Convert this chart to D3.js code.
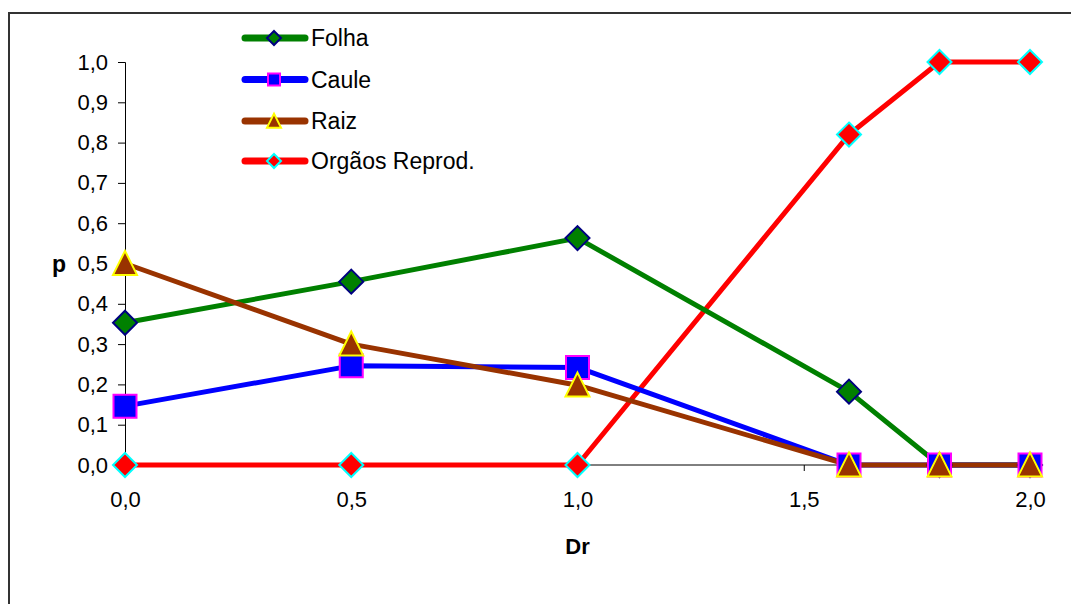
<!DOCTYPE html>
<html><head><meta charset="utf-8">
<script src="https://cdn.jsdelivr.net/npm/d3@7"></script>
<style>body{margin:0;background:#fff;} svg{display:block;font-family:Arial,"Liberation Sans",sans-serif;}</style>
</head><body>
<svg id="c" width="1071" height="604"></svg>
<script>
const dr = [0.0, 0.5, 1.0, 1.6, 1.8, 2.0];
const folha = [0.353, 0.455, 0.563, 0.182, 0.0, 0.0];
const caule = [0.146, 0.246, 0.242, 0.0, 0.0, 0.0];
const raiz = [0.5, 0.3, 0.198, 0.0, 0.0, 0.0];
const orgaos = [0.0, 0.0, 0.0, 0.82, 1.0, 1.0];
const seriesNames = ["Folha", "Caule", "Raiz", "Orgãos Reprod."];
const xTicks = [0.0, 0.5, 1.0, 1.5, 2.0];
const yTicks = [0.0, 0.1, 0.2, 0.3, 0.4, 0.5, 0.6, 0.7, 0.8, 0.9, 1.0];

const series = [
  {name: seriesNames[0], values: folha, line: "#008000", fill: "#008000", stroke: "#000080", shape: "diamond"},
  {name: seriesNames[1], values: caule, line: "#0000FF", fill: "#0000FF", stroke: "#FF00FF", shape: "square"},
  {name: seriesNames[2], values: raiz, line: "#993300", fill: "#993300", stroke: "#FFFF00", shape: "triangle"},
  {name: seriesNames[3], values: orgaos, line: "#FF0000", fill: "#FF0000", stroke: "#00FFFF", shape: "diamond"}
];
const drawOrder = [3, 0, 1, 2];

const svg = d3.select("#c");
const fmt = v => d3.format(".1f")(v).replace(".", ",");

// outer border
svg.append("rect").attr("x", 9).attr("y", 13).attr("width", 1100).attr("height", 700)
  .attr("fill", "#fff").attr("stroke", "#333").attr("stroke-width", 2);

const x = d3.scaleLinear().domain([0, 2]).range([125, 1030]);
const y = d3.scaleLinear().domain([0, 1]).range([465, 62]);

// axes
const yAxis = svg.append("g").attr("transform", `translate(${x(0)},0)`)
  .call(d3.axisLeft(y).tickValues(yTicks).tickFormat(fmt).tickSize(7).tickPadding(10));
const xAxis = svg.append("g").attr("transform", `translate(0,${y(0)})`)
  .call(d3.axisBottom(x).tickValues(xTicks).tickFormat(fmt).tickSize(6).tickPadding(21));
[yAxis, xAxis].forEach(a => {
  a.select(".domain").attr("stroke", "#000").attr("stroke-width", 1);
  a.selectAll(".tick line").attr("stroke", "#000");
  a.selectAll(".tick text").attr("font-size", 22).attr("fill", "#000").attr("font-family", "Arial, 'Liberation Sans', sans-serif");
});
xAxis.select(".domain").attr("d", `M${x(0)},0H${x(2)}`);
xAxis.selectAll(".tick text").attr("dy", "0.68em");

// axis titles
svg.append("text").attr("x", 59).attr("y", 272).attr("text-anchor", "middle")
  .attr("font-size", 23).attr("font-weight", "bold").text("p");
svg.append("text").attr("x", x(1)).attr("y", 554).attr("text-anchor", "middle")
  .attr("font-size", 22).attr("font-weight", "bold").text("Dr");

function symPath(shape, s) {
  if (shape === "diamond") return `M0,${-s}L${s},0L0,${s}L${-s},0Z`;
  if (shape === "square") return `M${-s},${-s}H${s}V${s}H${-s}Z`;
  if (shape === "triangle") return `M0,${-s*1.05}L${s},${s*0.95}L${-s},${s*0.95}Z`;
}
const markerSize = {diamond: 12, square: 11.5, triangle: 12};

const line = d3.line().x((d, i) => x(dr[i])).y(d => y(d));
drawOrder.forEach(k => {
  const s = series[k];
  svg.append("path").attr("d", line(s.values)).attr("fill", "none")
    .attr("stroke", s.line).attr("stroke-width", 5).attr("stroke-linejoin", "round");
});
drawOrder.forEach(k => {
  const s = series[k];
  svg.append("g").selectAll("path").data(s.values).join("path")
    .attr("transform", (d, i) => `translate(${x(dr[i])},${y(d)})`)
    .attr("d", symPath(s.shape, markerSize[s.shape]))
    .attr("fill", s.fill).attr("stroke", s.stroke).attr("stroke-width", 2);
});

// legend
const lg = svg.append("g");
const legendY = [38, 79.5, 121, 161];
series.forEach((s, i) => {
  const g = lg.append("g").attr("transform", `translate(0,${legendY[i]})`);
  g.append("line").attr("x1", 245).attr("x2", 305).attr("y1", 0).attr("y2", 0)
    .attr("stroke", s.line).attr("stroke-width", 7).attr("stroke-linecap", "round");
  g.append("path").attr("transform", "translate(274,0)")
    .attr("d", symPath(s.shape, s.shape === "square" ? 6 : 7))
    .attr("fill", s.fill).attr("stroke", s.stroke).attr("stroke-width", 2);
  g.append("text").attr("x", 311).attr("y", 8).attr("font-size", 23).attr("fill", "#000").text(s.name);
});
</script>
</body></html>
